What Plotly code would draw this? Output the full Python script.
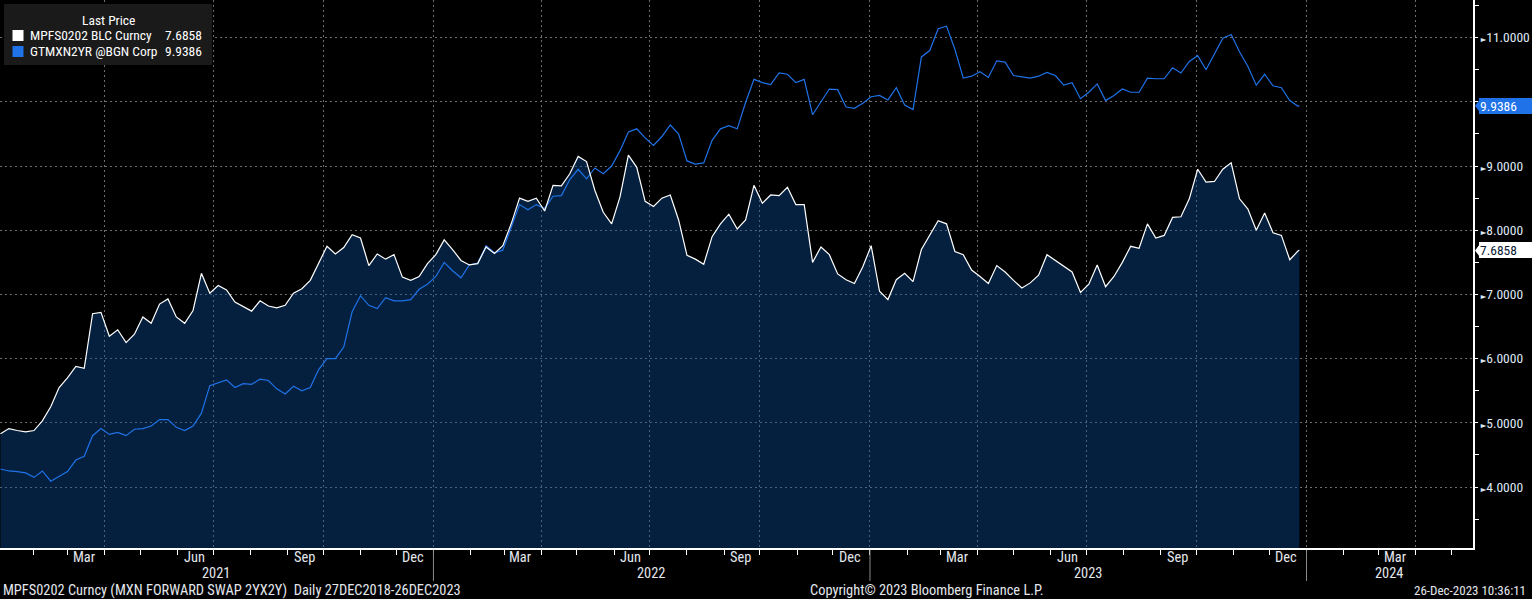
import plotly.graph_objects as go
import pandas as pd

# ---------------- data (weekly readings, Mondays from 2021-01-04, plus last day) -------------
week_start = "2021-01-04"
last_date = "2023-12-26"

mpfs_values = [
    4.83, 4.91, 4.88, 4.86, 4.88, 5.03, 5.25, 5.55, 5.70, 5.88, 5.85, 6.70, 6.72, 6.35, 6.45, 6.25, 6.38, 6.65, 6.55, 6.85, 6.93, 6.65, 6.55,
    6.75, 7.33, 7.02, 7.14, 7.07, 6.88, 6.81, 6.74, 6.90, 6.82, 6.79, 6.83, 7.02, 7.09, 7.22, 7.48, 7.75, 7.63, 7.73, 7.93, 7.88, 7.45,
    7.63, 7.55, 7.62, 7.27, 7.22, 7.28, 7.48, 7.62, 7.85, 7.70, 7.53, 7.46, 7.48, 7.74, 7.64, 7.76, 8.10, 8.50, 8.45, 8.50, 8.30, 8.70, 8.69,
    8.88, 9.15, 9.07, 8.62, 8.28, 8.10, 8.52, 9.17, 8.98, 8.45, 8.37, 8.50, 8.55, 8.16, 7.61, 7.55, 7.47, 7.90, 8.10, 8.25, 8.02, 8.16,
    8.70, 8.42, 8.55, 8.54, 8.67, 8.40, 8.40, 7.50, 7.74, 7.62, 7.32, 7.23, 7.17, 7.43, 7.76, 7.05, 6.92, 7.23, 7.33, 7.20, 7.70, 7.92,
    8.15, 8.10, 7.67, 7.62, 7.38, 7.28, 7.17, 7.45, 7.35, 7.22, 7.10, 7.18, 7.30, 7.62, 7.53, 7.44, 7.35, 7.03, 7.16, 7.46, 7.12, 7.28,
    7.50, 7.75, 7.72, 8.10, 7.88, 7.92, 8.20, 8.21, 8.49, 8.95, 8.75, 8.76, 8.95, 9.05, 8.49, 8.33, 8.00, 8.27, 7.96, 7.92, 7.54, 7.68,
    7.6858,
]

gtm_values = [
    4.28, 4.25, 4.24, 4.22, 4.15, 4.25, 4.09, 4.16, 4.24, 4.42, 4.48, 4.80, 4.91, 4.82, 4.85, 4.80, 4.90, 4.91, 4.95, 5.05, 5.05, 4.93, 4.88,
    4.95, 5.15, 5.58, 5.62, 5.67, 5.55, 5.61, 5.60, 5.68, 5.66, 5.53, 5.45, 5.57, 5.50, 5.55, 5.83, 6.00, 6.00, 6.18, 6.73, 6.98, 6.83,
    6.78, 6.95, 6.90, 6.90, 6.92, 7.08, 7.16, 7.28, 7.50, 7.37, 7.26, 7.46, 7.49, 7.76, 7.65, 7.69, 8.05, 8.40, 8.32, 8.40, 8.34, 8.53, 8.54,
    8.79, 8.95, 8.80, 8.97, 8.88, 9.00, 9.24, 9.53, 9.58, 9.44, 9.32, 9.46, 9.64, 9.50, 9.08, 9.03, 9.05, 9.40, 9.58, 9.63, 9.58, 9.99,
    10.35, 10.30, 10.27, 10.45, 10.43, 10.30, 10.35, 9.80, 10.01, 10.20, 10.19, 9.92, 9.90, 9.98, 10.08, 10.10, 10.03, 10.22, 9.95, 9.88, 10.70, 10.80,
    11.14, 11.18, 10.82, 10.37, 10.40, 10.47, 10.38, 10.64, 10.62, 10.41, 10.39, 10.37, 10.40, 10.46, 10.41, 10.26, 10.30, 10.05, 10.15, 10.28, 10.02, 10.10,
    10.20, 10.15, 10.15, 10.37, 10.36, 10.36, 10.53, 10.45, 10.63, 10.72, 10.50, 10.74, 10.99, 11.05, 10.78, 10.55, 10.26, 10.43, 10.25, 10.22, 10.02, 9.93,
    9.9386,
]

dates = list(pd.date_range(week_start, periods=len(mpfs_values) - 1, freq="7D").strftime("%Y-%m-%d")) + [last_date]

legend_title = "Last Price"
mpfs_name = "MPFS0202 BLC Curncy"
gtm_name = "GTMXN2YR @BGN Corp"
mpfs_last = "7.6858"
gtm_last = "9.9386"

y_tick_vals = [4, 5, 6, 7, 8, 9, 10, 11]
y_tick_text = ["4.0000", "5.0000", "6.0000", "7.0000", "8.0000", "9.0000", "", "11.0000"]
y_minor_vals = [3.5, 4.5, 5.5, 6.5, 7.5, 8.5, 9.5, 10.5, 11.5]

quarter_starts = [f"{y}-{m:02d}-01" for y in (2021, 2022, 2023, 2024) for m in (1, 4, 7, 10)][1:-2]
month_starts = [f"{y}-{m:02d}-01" for y in (2021, 2022, 2023, 2024) for m in range(1, 13)][1:-7]
month_label_dates = [f"{y}-{m:02d}-15" for y in (2021, 2022, 2023) for m in (3, 6, 9, 12)] + ["2024-03-15"]
month_label_text = ["Mar", "Jun", "Sep", "Dec"] * 3 + ["Mar"]
year_label_dates = ["2021-07-03", "2022-07-02", "2023-07-02", "2024-03-10"]
year_label_text = ["2021", "2022", "2023", "2024"]
year_boundaries = ["2022-01-01", "2023-01-01", "2024-01-01"]

footer_left = "MPFS0202 Curncy (MXN FORWARD SWAP 2YX2Y)&nbsp;&nbsp;Daily 27DEC2018-26DEC2023"
footer_mid = "Copyright© 2023 Bloomberg Finance L.P."
footer_right = "26-Dec-2023 10:36:11"

# ---------------- styles -------------
FONT = "Roboto Condensed, Liberation Sans Narrow, DejaVu Sans Condensed, sans-serif"
FS = 14.4
FS_LEG = 13.5
FS_TICK = 13.5
BLUE = "#1f72e8"
FILL = "rgba(10,80,155,0.40)"
GRID = "#6e6e6e"
TXT = "#e4e8ee"
W, H = 1473.0, 548.0  # plot area in pixels (for paper-coordinate placement of decorations)


def px(xp):
    return xp / W


def py(yp):
    return 1 - yp / H


fig = go.Figure()

fig.add_trace(go.Scatter(x=dates, y=mpfs_values, mode="lines", fill="tozeroy",
                         fillcolor=FILL, line=dict(width=0, color="rgba(0,0,0,0)"),
                         showlegend=False, hoverinfo="skip"))
fig.add_trace(go.Scatter(x=dates, y=gtm_values, mode="lines",
                         line=dict(color=BLUE, width=1.2), showlegend=False, name=gtm_name))
fig.add_trace(go.Scatter(x=dates, y=mpfs_values, mode="lines",
                         line=dict(color="#ffffff", width=1.2), showlegend=False, name=mpfs_name))

annotations = []
for d, t in zip(month_label_dates, month_label_text):
    annotations.append(dict(x=d, y=-0.0165, xref="x", yref="paper", text=t, showarrow=False,
                            xanchor="center", yanchor="middle", font=dict(color=TXT, size=FS, family=FONT)))
for d, t in zip(year_label_dates, year_label_text):
    annotations.append(dict(x=d, y=-0.046, xref="x", yref="paper", text=t, showarrow=False,
                            xanchor="center", yanchor="middle", font=dict(color=TXT, size=FS, family=FONT)))

annotations += [
    dict(x=0.0, y=-0.0775, xref="paper", yref="paper", text=footer_left, showarrow=False,
         xanchor="left", yanchor="middle", xshift=1, font=dict(color=TXT, size=FS, family=FONT)),
    dict(x=px(927), y=-0.0775, xref="paper", yref="paper", text=footer_mid, showarrow=False,
         xanchor="center", yanchor="middle", font=dict(color=TXT, size=FS, family=FONT)),
    dict(x=1.0, y=-0.0775, xref="paper", yref="paper", text=footer_right, showarrow=False,
         xanchor="right", yanchor="middle", xshift=55, font=dict(color=TXT, size=13, family=FONT)),
]

# legend box (Bloomberg style)
annotations += [
    dict(x=px(108), y=py(20), xref="paper", yref="paper", text=legend_title, showarrow=False,
         xanchor="center", yanchor="middle", font=dict(color="#ffffff", size=FS_LEG, family=FONT)),
    dict(x=px(28), y=py(35.5), xref="paper", yref="paper", text=mpfs_name, showarrow=False,
         xanchor="left", yanchor="middle", font=dict(color="#ffffff", size=FS_LEG, family=FONT)),
    dict(x=px(204), y=py(35.5), xref="paper", yref="paper", text=mpfs_last, showarrow=False,
         xanchor="right", yanchor="middle", font=dict(color="#ffffff", size=FS_LEG, family=FONT)),
    dict(x=px(28), y=py(51.5), xref="paper", yref="paper", text=gtm_name, showarrow=False,
         xanchor="left", yanchor="middle", font=dict(color="#ffffff", size=FS_LEG, family=FONT)),
    dict(x=px(204), y=py(51.5), xref="paper", yref="paper", text=gtm_last, showarrow=False,
         xanchor="right", yanchor="middle", font=dict(color="#ffffff", size=FS_LEG, family=FONT)),
]

# last-price tags on the right axis
annotations += [
    dict(x=1.0, y=float(gtm_last), xref="paper", yref="y", text=gtm_last, showarrow=False,
         xanchor="left", yanchor="middle", xshift=6, bgcolor=BLUE, borderpad=1, borderwidth=0,
         width=52, height=14, align="left",
         font=dict(color="#ffffff", size=FS_TICK, family=FONT)),
    dict(x=1.0, y=float(mpfs_last), xref="paper", yref="y", text=mpfs_last, showarrow=False,
         xanchor="left", yanchor="middle", xshift=6, bgcolor="#ffffff", borderpad=1, borderwidth=0,
         width=52, height=14, align="left",
         font=dict(color="#0a1a33", size=FS_TICK, family=FONT)),
]

shapes = [
    dict(type="rect", xref="paper", yref="paper", x0=px(4), x1=px(212), y0=py(4), y1=py(65),
         fillcolor="#1a1a1a", line=dict(width=0), layer="above"),
    dict(type="rect", xref="paper", yref="paper", x0=px(12.5), x1=px(23.5), y0=py(30), y1=py(41),
         fillcolor="#ffffff", line=dict(width=0), layer="above"),
    dict(type="rect", xref="paper", yref="paper", x0=px(12.5), x1=px(23.5), y0=py(46), y1=py(57),
         fillcolor=BLUE, line=dict(width=0), layer="above"),
]
for d in year_boundaries:
    shapes.append(dict(type="line", x0=d, x1=d, xref="x", yref="paper", y0=-0.004, y1=-0.06,
                       line=dict(color="#8a8a8a", width=1)))
for val, col in ((float(gtm_last), BLUE), (float(mpfs_last), "#ffffff")):
    shapes.append(dict(type="path", xref="paper", yref="y", xsizemode="pixel", ysizemode="pixel",
                       xanchor=1.0, yanchor=val, path="M 2 0 L 8 8 L 8 -8 Z",
                       fillcolor=col, line=dict(width=0)))

fig.update_layout(
    width=1532, height=599,
    paper_bgcolor="#000000", plot_bgcolor="#000000",
    margin=dict(l=0, r=59, t=0, b=51, autoexpand=False),
    font=dict(family=FONT, color=TXT, size=FS),
    showlegend=False,
    annotations=annotations,
    shapes=shapes,
    xaxis=dict(type="date", range=["2021-01-03 14:00", "2024-05-19 05:00"], automargin=False,
               tickmode="array", tickvals=quarter_starts, showticklabels=False,
               ticks="outside", ticklen=5, tickcolor="#ffffff", tickwidth=1,
               showgrid=True, gridcolor=GRID, griddash="2px,3px", gridwidth=1,
               minor=dict(tickmode="array", tickvals=month_starts, ticks="outside", ticklen=5,
                          tickcolor="#ffffff", showgrid=False),
               showline=True, linecolor="#ffffff", linewidth=2, zeroline=False, fixedrange=True),
    yaxis=dict(side="right", range=[3.05, 11.587], automargin=False,
               tickmode="array", tickvals=y_tick_vals,
               ticktext=[("<span style='font-size:8px'>►</span>" + t) if t else "" for t in y_tick_text],
               ticks="outside", ticklen=3, tickcolor="#ffffff",
               tickfont=dict(color="#dfe8f4", size=FS_TICK, family=FONT),
               showgrid=True, gridcolor=GRID, griddash="2px,3px", gridwidth=1,
               minor=dict(tickmode="array", tickvals=y_minor_vals, ticks="outside", ticklen=4,
                          tickcolor="#ffffff", showgrid=False),
               showline=True, linecolor="#ffffff", linewidth=2, zeroline=False, fixedrange=True),
)

fig.write_html("out.html", config={"displayModeBar": False},
               post_script="document.body.style.margin='0';document.body.style.overflow='hidden';")
